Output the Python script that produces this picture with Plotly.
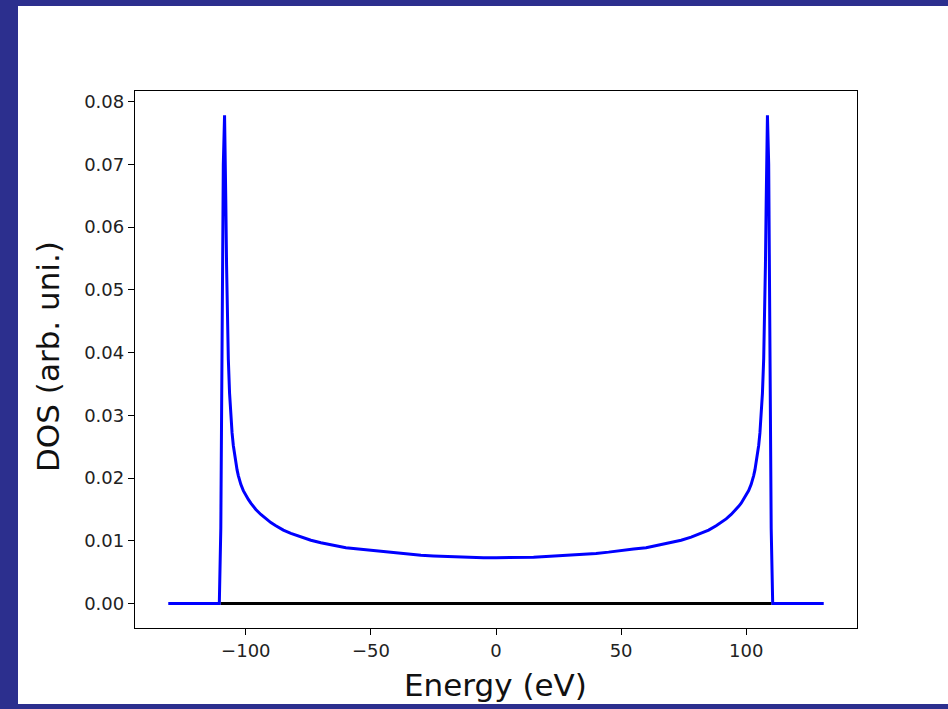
import plotly.graph_objects as go

# Blue DOS curve; left half, mirrored for the right half
energy_left = [-131.0, -110.6, -110.0, -109.5, -109.0, -108.5, -108.2, -108.0, -107.7,
               -107.4, -107.0, -106.5, -106.0, -105.5, -105.0, -104.5, -104.0, -103.5,
               -103.0, -102.5, -102.0, -101.0, -100.0, -99.0, -98.0, -97.0, -96.0, -94.0,
               -92.0, -90.0, -88.0, -85.0, -82.0, -78.0, -74.0, -70.0, -65.0, -60.0,
               -55.0, -50.0, -45.0, -40.0, -35.0, -30.0, -25.0, -20.0, -15.0, -10.0, -5.0]
dos_left = [0.0, 0.0, 0.012, 0.045, 0.070, 0.0778, 0.072, 0.064, 0.054,
            0.046, 0.039, 0.0335, 0.0298, 0.0272, 0.0252, 0.0237, 0.0224, 0.0213,
            0.0204, 0.0196, 0.0190, 0.0180, 0.0172, 0.0166, 0.0160, 0.0155, 0.0150, 0.0142,
            0.0135, 0.0129, 0.0124, 0.0117, 0.0112, 0.0106, 0.0101, 0.0097, 0.0093, 0.0089,
            0.0087, 0.0085, 0.0082, 0.0080, 0.0078, 0.0077, 0.0076, 0.0075, 0.0074, 0.0074,
            0.0073]
energy_center = [0.0]
dos_center = [0.0073]

energy = energy_left + energy_center + [-e for e in reversed(energy_left)]
dos = dos_left + dos_center + list(reversed(dos_left))

# Black zero line
zero_energy = [-110.0, 110.0]
zero_dos = [0.0, 0.0]

x_ticks = [-100, -50, 0, 50, 100]
y_ticks = [0.00, 0.01, 0.02, 0.03, 0.04, 0.05, 0.06, 0.07, 0.08]

W, H = 948, 709
L, R, T, B = 135, 91, 91, 81
pw, ph = W - L - R, H - T - B

fig = go.Figure()
fig.add_trace(go.Scatter(x=energy, y=dos, mode="lines",
                         line=dict(color="#0000ff", width=3), hoverinfo="skip"))
fig.add_trace(go.Scatter(x=zero_energy, y=zero_dos, mode="lines",
                         line=dict(color="#000000", width=3), hoverinfo="skip"))

axis_common = dict(showline=True, mirror=True, linecolor="#000000", linewidth=1.3,
                   ticks="outside", ticklen=6, tickwidth=1.3, tickcolor="#000000",
                   showgrid=False, zeroline=False,
                   tickfont=dict(family="DejaVu Sans", size=18, color="#222222"))

fig.update_layout(
    width=W, height=H,
    margin=dict(l=L, r=R, t=T, b=B),
    paper_bgcolor="#2c2f8e",
    plot_bgcolor="#ffffff",
    showlegend=False,
    xaxis=dict(range=[-144.3, 144.3], tickvals=x_ticks, **axis_common),
    yaxis=dict(range=[-0.00389, 0.08168], tickvals=y_ticks, tickformat=".2f", **axis_common),
    shapes=[dict(type="rect", xref="paper", yref="paper",
                 x0=(18 - L) / pw, x1=(W + 5 - L) / pw,
                 y0=(H - B - 704) / ph, y1=(H - B - 6) / ph,
                 fillcolor="#ffffff", line=dict(width=0), layer="below")],
    annotations=[
        dict(text="Energy (eV)", xref="paper", yref="paper",
             x=(495 - L) / pw, y=(H - B - 685) / ph, xanchor="center", yanchor="middle",
             showarrow=False, font=dict(family="DejaVu Sans", size=31, color="#111111")),
        dict(text="DOS (arb. uni.)", xref="paper", yref="paper",
             x=(48 - L) / pw, y=(H - B - 357) / ph, xanchor="center", yanchor="middle",
             textangle=-90, showarrow=False,
             font=dict(family="DejaVu Sans", size=31, color="#111111")),
    ],
)

fig.write_html(
    "out.html",
    config={"displayModeBar": False},
    post_script="document.body.style.margin='0';document.body.style.padding='0';"
                "document.body.style.overflow='hidden';"
                "document.documentElement.style.background='#2c2f8e';",
)
